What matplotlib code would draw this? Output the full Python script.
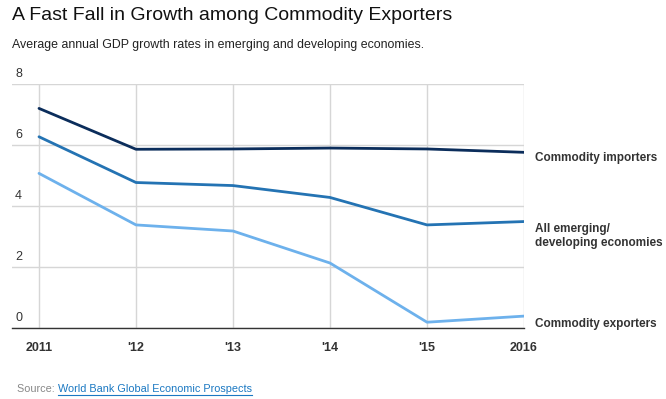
import numpy as np
import matplotlib.pyplot as plt

plt.rcParams['font.family'] = ['Liberation Sans', 'DejaVu Sans']

years = [2011, 2012, 2013, 2014, 2015, 2016]
year_labels = ['2011', "'12", "'13", "'14", "'15", '2016']
importers = [7.2, 5.86, 5.87, 5.9, 5.87, 5.76]
all_emdev = [6.27, 4.77, 4.67, 4.28, 3.38, 3.49]
exporters = [5.07, 3.38, 3.18, 2.13, 0.19, 0.39]
series_names = ['Commodity importers', 'All emerging/\ndeveloping economies', 'Commodity exporters']
yticks = [0, 2, 4, 6, 8]

colors = ['#0b2d5b', '#2473b3', '#6db1ec']

fig = plt.figure(figsize=(6.66, 3.99), dpi=100)
ax = fig.add_axes([12/666, 1-328/399, (524-12)/666, (328-84)/399])

for i, s in enumerate([importers, all_emdev, exporters]):
    ax.plot(years, s, color=colors[i], lw=2, solid_capstyle='round', zorder=3)

ax.set_xlim(2011 - 27/97, 2016)
ax.set_ylim(0, 8)
ax.set_xticks(years)
ax.set_xticklabels(year_labels, fontweight='bold', fontsize=9, color='#333333')
ax.set_yticks(yticks)
ax.set_yticklabels([])
ax.tick_params(length=0, pad=10)
ax.grid(True, color='#d6d6d6', lw=1)
ax.set_axisbelow(True)
for sp in ['top', 'right', 'left']:
    ax.spines[sp].set_visible(False)
ax.spines['bottom'].set_color('#333333')
ax.spines['bottom'].set_linewidth(1)

# y labels sit above the gridlines
for v in yticks:
    ax.text(3/512, v + 0.12, str(v), transform=ax.get_yaxis_transform(), fontsize=9,
            color='#333333', va='bottom', ha='left')

# end labels
lab_kw = dict(fontsize=8.5, fontweight='bold', color='#333333', va='center')
fig.text(535/666, 1-158/399, series_names[0], **lab_kw)
fig.text(535/666, 1-236/399, series_names[1], linespacing=1.3, **lab_kw)
fig.text(535/666, 1-324/399, series_names[2], **lab_kw)

fig.text(12/666, 1-15/399, 'A Fast Fall in Growth among Commodity Exporters',
         fontsize=14, color='#111111', va='center')
fig.text(12/666, 1-45/399, 'Average annual GDP growth rates in emerging and developing economies.',
         fontsize=8.9, color='#222222', va='center')

src = fig.text(17/666, 1-389/399, 'Source: ', fontsize=7.8, color='#888888', va='center')
fig.canvas.draw()
bb = src.get_window_extent()
ln = fig.text(bb.x1/666, 1-389/399, 'World Bank Global Economic Prospects', fontsize=7.8,
              color='#1a78c2', va='center')
fig.canvas.draw()
lb = ln.get_window_extent()
fig.add_artist(plt.Line2D([lb.x0/666, lb.x1/666], [(lb.y0 - 1)/399]*2,
                          color='#1a78c2', lw=0.8))

fig.savefig('out.png', dpi=100, facecolor='white')
